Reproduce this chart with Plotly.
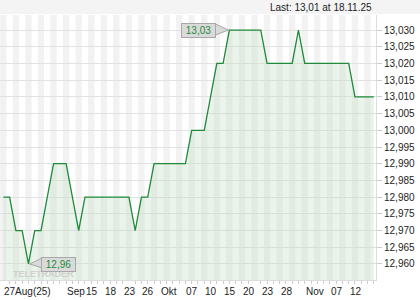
import plotly.graph_objects as go

dates = [
    "2025-08-27", "2025-08-28", "2025-08-29",
    "2025-09-01", "2025-09-02", "2025-09-03", "2025-09-04", "2025-09-05",
    "2025-09-08", "2025-09-09", "2025-09-10", "2025-09-11", "2025-09-12",
    "2025-09-15", "2025-09-16", "2025-09-17", "2025-09-18", "2025-09-19",
    "2025-09-22", "2025-09-23", "2025-09-24", "2025-09-25", "2025-09-26",
    "2025-09-29", "2025-09-30",
    "2025-10-01", "2025-10-02", "2025-10-03",
    "2025-10-06", "2025-10-07", "2025-10-08", "2025-10-09", "2025-10-10",
    "2025-10-13", "2025-10-14", "2025-10-15", "2025-10-16", "2025-10-17",
    "2025-10-20", "2025-10-21", "2025-10-22", "2025-10-23", "2025-10-24",
    "2025-10-27", "2025-10-28", "2025-10-29", "2025-10-30", "2025-10-31",
    "2025-11-03", "2025-11-04", "2025-11-05", "2025-11-06", "2025-11-07",
    "2025-11-10", "2025-11-11", "2025-11-12", "2025-11-13", "2025-11-14",
    "2025-11-17", "2025-11-18",
]

prices = [
    12.980, 12.980, 12.970, 12.970, 12.960, 12.970, 12.970, 12.980, 12.990, 12.990,
    12.990, 12.980, 12.970, 12.980, 12.980, 12.980, 12.980, 12.980, 12.980, 12.980,
    12.980, 12.970, 12.980, 12.980, 12.990, 12.990, 12.990, 12.990, 12.990, 12.990,
    13.000, 13.000, 13.000, 13.010, 13.020, 13.020, 13.030, 13.030, 13.030, 13.030,
    13.030, 13.030, 13.020, 13.020, 13.020, 13.020, 13.020, 13.030, 13.020, 13.020,
    13.020, 13.020, 13.020, 13.020, 13.020, 13.020, 13.010, 13.010, 13.010, 13.010,
]

tick_dates = ["2025-08-27", "2025-09-10", "2025-09-15", "2025-09-18", "2025-09-23",
              "2025-09-26", "2025-10-01", "2025-10-07", "2025-10-10", "2025-10-15",
              "2025-10-20", "2025-10-23", "2025-10-28", "2025-11-03", "2025-11-07",
              "2025-11-12"]
tick_texts = ["27Aug(25)", "Sep", "15", "18", "23", "26", "Okt", "07", "10", "15",
              "20", "23", "28", "Nov", "07", "12"]

y_ticks = [12.960, 12.965, 12.970, 12.975, 12.980, 12.985, 12.990, 12.995,
           13.000, 13.005, 13.010, 13.015, 13.020, 13.025, 13.030]

header_text = "Last: 13,01 at 18.11.25"

idx = list(range(len(dates)))
LINE = "#1e8a3a"
FONT = "Liberation Sans, Arial, sans-serif"

fig = go.Figure()
fig.add_trace(go.Scatter(
    x=idx, y=prices, mode="lines",
    line=dict(color=LINE, width=1.3),
    fill="tozeroy", fillcolor="rgba(190,220,185,0.30)",
    hoverinfo="skip",
))

shapes = []
# alternating day stripes
for i in idx:
    if i % 2 == 0:
        shapes.append(dict(type="rect", xref="x", yref="paper",
                           x0=i - 0.5, x1=i + 0.5, y0=0, y1=1,
                           fillcolor="#f2f2f2", line=dict(width=0), layer="below"))
# header band
shapes.append(dict(type="rect", xref="paper", yref="paper",
                   x0=-0.01, x1=1.2, y0=1.004, y1=1.07,
                   fillcolor="#f4f4f4", line=dict(width=0), layer="below"))

i_max = prices.index(max(prices))
i_min = prices.index(min(prices))

# callout pointers
shapes.append(dict(type="path", xsizemode="pixel", ysizemode="pixel",
                   xanchor=i_max, yanchor=prices[i_max],
                   path="M -1 0 L -14 6 L -14 -5 Z",
                   fillcolor="#dadada", line=dict(color="#a8a8a8", width=1)))
shapes.append(dict(type="path", xsizemode="pixel", ysizemode="pixel",
                   xanchor=i_min, yanchor=prices[i_min],
                   path="M 1 0 L 14 6 L 14 -4 Z",
                   fillcolor="#dadada", line=dict(color="#a8a8a8", width=1)))

def fmt2(v):
    return f"{v:.2f}".replace(".", ",")

annotations = [
    dict(xref="paper", yref="paper", x=0.995, y=1.030, xanchor="right", yanchor="middle",
         text=header_text, showarrow=False, font=dict(family=FONT, size=10, color="#222")),
    dict(xref="paper", yref="paper", x=0.03, y=0.022, xanchor="left", yanchor="middle",
         text="<b>TELETRADER</b>", showarrow=False,
         font=dict(family=FONT, size=9, color="#cfcfcf")),
    dict(x=i_max, y=prices[i_max], xanchor="right", yanchor="middle", xshift=-13,
         text=fmt2(prices[i_max]), showarrow=False, width=31, height=11, borderpad=1,
         bgcolor="#dadada", bordercolor="#a8a8a8", borderwidth=1,
         font=dict(family=FONT, size=10, color=LINE)),
    dict(x=i_min, y=prices[i_min], xanchor="left", yanchor="middle", xshift=13, yshift=-1,
         text=fmt2(prices[i_min]), showarrow=False, width=31, height=11, borderpad=1,
         bgcolor="#dadada", bordercolor="#a8a8a8", borderwidth=1,
         font=dict(family=FONT, size=10, color=LINE)),
]

# x tick labels, left-aligned at their day
for d, t in zip(tick_dates, tick_texts):
    annotations.append(dict(x=dates.index(d), xref="x", yref="paper", y=-0.045,
                            xanchor="left", yanchor="middle", xshift=-1,
                            text=t, showarrow=False,
                            font=dict(family=FONT, size=10, color="#222")))

fig.update_layout(
    width=420, height=300,
    margin=dict(l=0, r=44, t=15, b=20),
    paper_bgcolor="white", plot_bgcolor="white",
    showlegend=False,
    shapes=shapes, annotations=annotations,
    xaxis=dict(
        range=[-0.53, 59.35], showgrid=False, zeroline=False,
        showticklabels=False, ticks="",
        showline=True, linecolor="#dcdcdc", linewidth=1,
        minor=dict(dtick=1, tick0=0, ticks="outside", ticklen=3, tickcolor="#cccccc"),
    ),
    yaxis=dict(
        range=[12.9552, 13.0345], side="right",
        tickvals=y_ticks, ticktext=[f"{v:.3f}".replace(".", ",") for v in y_ticks],
        showgrid=True, gridcolor="#e2e2e2", gridwidth=1, zeroline=False,
        ticks="outside", ticklen=5, tickcolor="#cccccc",
        tickfont=dict(family=FONT, size=10, color="#222"),
        showline=True, linecolor="#dcdcdc", linewidth=1,
    ),
)

fig.write_html("out.html")
